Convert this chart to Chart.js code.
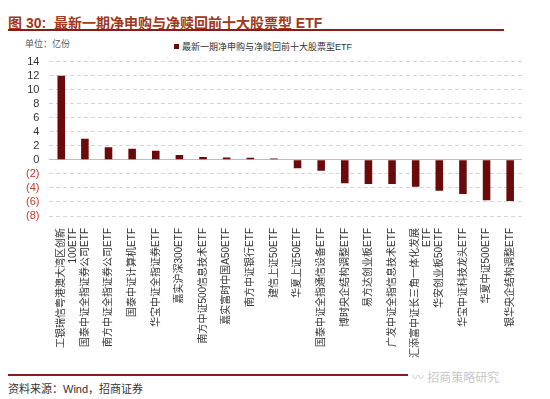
<!DOCTYPE html>
<html>
<head>
<meta charset="utf-8">
<script src="https://cdn.jsdelivr.net/npm/chart.js@4.4.1/dist/chart.umd.min.js"></script>
<style>
  body { margin: 0; width: 550px; height: 399px; background: #fff; position: relative; overflow: hidden;
         font-family: "Liberation Sans", "Noto Sans CJK SC", sans-serif; }
  #title { position: absolute; left: 8px; top: 12px; font-size: 14px; font-weight: bold; color: #a0381c; white-space: nowrap; }
  #title-line { position: absolute; left: 8px; top: 29px; width: 496px; height: 2px; background: #8b1c1c; }
  #unit { position: absolute; left: 25px; top: 37px; font-size: 9px; color: #555; }
  #legend { position: absolute; left: 174px; top: 40px; font-size: 9px; color: #333; white-space: nowrap; }
  #legend i { display: inline-block; width: 5px; height: 5px; background: #6b0a0a; margin-right: 3px; vertical-align: 1px; }
  #wrap { position: absolute; left: 0; top: 45px; width: 540px; height: 317px; }
  #foot-line { position: absolute; left: 8px; top: 374px; width: 400px; height: 2px; background: #8b1c1c; }
  #source { position: absolute; left: 8px; top: 380px; font-size: 11px; color: #333; }
  #mark { position: absolute; left: 412px; top: 368px; font-size: 12px; color: #c8c8c8; white-space: nowrap; }
</style>
</head>
<body>
<div id="title">图 30:&nbsp; 最新一期净申购与净赎回前十大股票型 ETF</div>
<div id="title-line"></div>
<div id="unit">单位：亿份</div>
<div id="legend"><i></i>最新一期净申购与净赎回前十大股票型ETF</div>
<div id="wrap"><canvas id="chart"></canvas></div>
<div id="foot-line"></div>
<div id="source">资料来源：Wind，招商证券</div>
<div id="mark">〰 招商策略研究</div>
<script>
// data
const fundNames = [
    ["工银瑞信粤港澳大湾区创新", "100ETF"],
    "国泰中证全指证券公司ETF",
    "南方中证全指证券公司ETF",
    "国泰中证计算机ETF",
    "华宝中证全指证券ETF",
    "嘉实沪深300ETF",
    "南方中证500信息技术ETF",
    "嘉实富时中国A50ETF",
    "南方中证银行ETF",
    "建信上证50ETF",
    "华夏上证50ETF",
    "国泰中证全指通信设备ETF",
    "博时央企结构调整ETF",
    "易方达创业板ETF",
    "广发中证全指信息技术ETF",
    ["汇添富中证长三角一体化发展", "ETF"],
    "华安创业板50ETF",
    "华宝中证科技龙头ETF",
    "华夏中证500ETF",
    "银华央企结构调整ETF"
];
const netFlow = [12.0, 3.0, 1.8, 1.6, 1.3, 0.7, 0.4, 0.35, 0.3, 0.2,
    -1.2, -1.55, -3.35, -3.45, -3.45, -3.85, -4.4, -4.85, -5.75, -5.85];
const yMin = -8;
const yMax = 14;
const yStep = 2;

const chartCanvas = document.getElementById("chart");

let flowChart = new Chart(chartCanvas, {
    type: 'bar',
    data: {
        labels: fundNames,
        datasets: [{
            label: '最新一期净申购与净赎回前十大股票型ETF',
            data: netFlow,
            backgroundColor: '#6b0a0a',
            barPercentage: 0.32,
            categoryPercentage: 1
        }]
    },
    options: {
        responsive: true,
        maintainAspectRatio: false,
        animation: false,
        layout: { padding: { left: 16, right: 18, top: 4 } },
        plugins: {
            legend: { display: false },
            tooltip: { enabled: false }
        },
        scales: {
            x: {
                grid: { display: false },
                border: { display: false },
                ticks: {
                    autoSkip: false,
                    maxRotation: 90,
                    minRotation: 90,
                    padding: 4,
                    color: '#333',
                    font: { size: 10, family: '"Liberation Sans", "Noto Sans CJK SC", sans-serif' }
                }
            },
            y: {
                min: yMin,
                max: yMax,
                grid: {
                    color: (c) => c.tick && c.tick.value === 0 ? '#bdbdbd' : '#d6d6d6',
                    drawTicks: false
                },
                border: {
                    display: false,
                    dash: (c) => c.tick && c.tick.value === 0 ? [] : [4, 3]
                },
                ticks: {
                    autoSkip: false,
                    stepSize: yStep,
                    padding: 10,
                    color: (c) => c.tick.value < 0 ? '#c0392b' : '#333',
                    font: { size: 11, family: '"Liberation Sans", sans-serif' },
                    callback: (v) => v < 0 ? '(' + Math.abs(v) + ')' : v
                }
            }
        }
    }
});
</script>
</body>
</html>
